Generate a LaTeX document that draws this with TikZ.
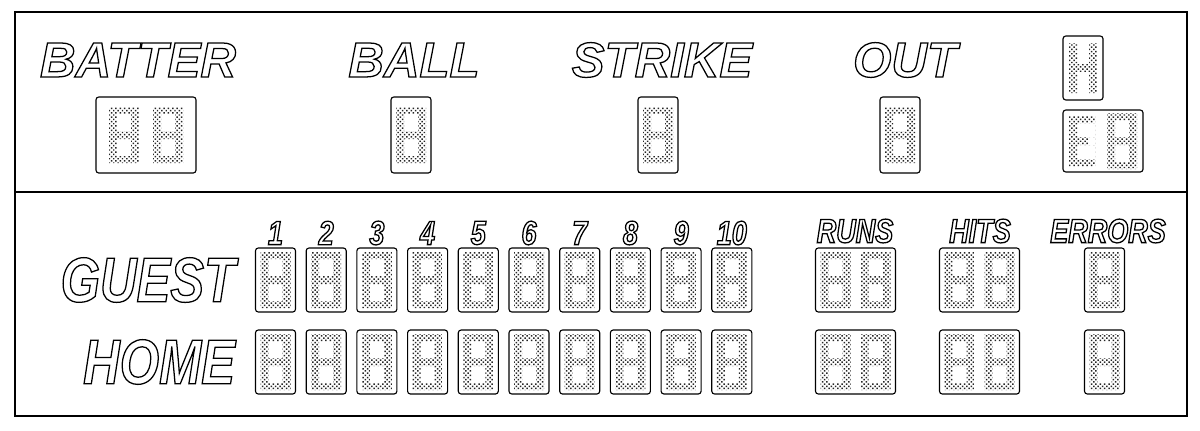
\documentclass[tikz,border=0pt]{standalone}
\usepackage{fontspec}
\setmainfont{Liberation Sans}
\usetikzlibrary{positioning,patterns.meta}
\newfontfamily\boardfont{Liberation Sans Bold Italic}
\newfontfamily\narrowfont[FakeStretch=0.8]{Liberation Sans Bold Italic}
\newcommand{\outl}[1]{\special{pdf:literal direct 1 Tr 0.9 w}#1\special{pdf:literal direct 0 Tr}}
% one seven segment digit, centred at (#1,#2), in pixels
\newcommand{\segs}[2]{%
  \fill[seg] (#1-15,#2-28) rectangle (#1+15,#2+28)
    (#1-7,#2-21) rectangle (#1+7,#2-4) (#1-7,#2+4) rectangle (#1+7,#2+21);}
\tikzset{
  panel/.style={draw, rounded corners=2pt, line width=0.8pt, inner sep=0pt},
  one/.style={panel, minimum width=1cm, minimum height=1.6cm},
  two/.style={panel, minimum width=2cm, minimum height=1.6cm},
  seg/.style={pattern={Dots[radius=0.75pt, distance=2.2pt, angle=45]}, pattern color=black!85, even odd rule},
  big/.style={font=\boardfont\fontsize{35}{35}\selectfont},
  side/.style={font=\narrowfont\fontsize{45}{45}\selectfont},
  small/.style={font=\narrowfont\fontsize{24}{24}\selectfont},
}
\begin{document}
\begin{tikzpicture}[x=0.025cm,y=-0.025cm]
    \useasboundingbox (0,0) rectangle (1200,430);
    \draw[line width=0.8pt] (15,12) rectangle (1187,416);
    \draw[line width=0.8pt] (15,192)--(1187,192);
    % top row
    \node[big] (batter) at (138,60) {\outl{BATTER}};
    \node[big] (ball) at (414,60) {\outl{BALL}};
    \node[big] (strike) at (662,60) {\outl{STRIKE}};
    \node[big] (out) at (905,60) {\outl{OUT}};
    \node[two, minimum width=2.5cm, minimum height=1.9cm] (batbox) at (146,135) {};
    \segs{124}{135} \segs{168}{135}
    \node[one, minimum height=1.9cm] (ballbox) at (411,135) {};
    \segs{411}{135}
    \node[one, minimum height=1.9cm] (strikebox) at (658,135) {};
    \segs{658}{135}
    \node[one, minimum height=1.9cm] (outbox) at (900,135) {};
    \segs{900}{135}
    \node[one] (hbox) at (1083,68) {};
    \fill[seg] (1069,43) rectangle (1077,93) (1089,43) rectangle (1097,93)
      (1077,64) rectangle (1089,72);
    \node[two, minimum height=1.55cm] (ebox) at (1103,141) {};
    \fill[seg] (1069,116) rectangle (1095,166) (1077,123) rectangle (1095,137)
      (1077,145) rectangle (1095,159) (1088,137) rectangle (1095,145);
    \segs{1122}{141}
    % bottom rows
    \node[side, anchor=east] (guest) at (240,280) {\outl{GUEST}};
    \node[side, anchor=east] (home) at (240,362) {\outl{HOME}};
    \foreach \i in {1,...,10} {
      \pgfmathsetmacro{\xx}{275.5+50.7*(\i-1)}
      \node[small] (n\i) at (\xx,233) {\outl{\i}};
      \node[one] (g\i) at (\xx,280) {};
      \segs{\xx}{280}
      \node[one] (h\i) at (\xx,362) {};
      \segs{\xx}{362}
    }
    \node[small] (runs) at (855,231) {\outl{RUNS}};
    \node[small] (hits) at (980,231) {\outl{HITS}};
    \node[small] (errors) at (1108,231) {\outl{ERRORS}};
    \foreach \r/\y in {g/280,h/362} {
      \node[two] (\r runs) at (855.5,\y) {};
      \segs{835.5}{\y} \segs{875.5}{\y}
      \node[two] (\r hits) at (979.5,\y) {};
      \segs{959.5}{\y} \segs{999.5}{\y}
      \node[one] (\r err) at (1104.5,\y) {};
      \segs{1104.5}{\y}
    }
\end{tikzpicture}
\end{document}
